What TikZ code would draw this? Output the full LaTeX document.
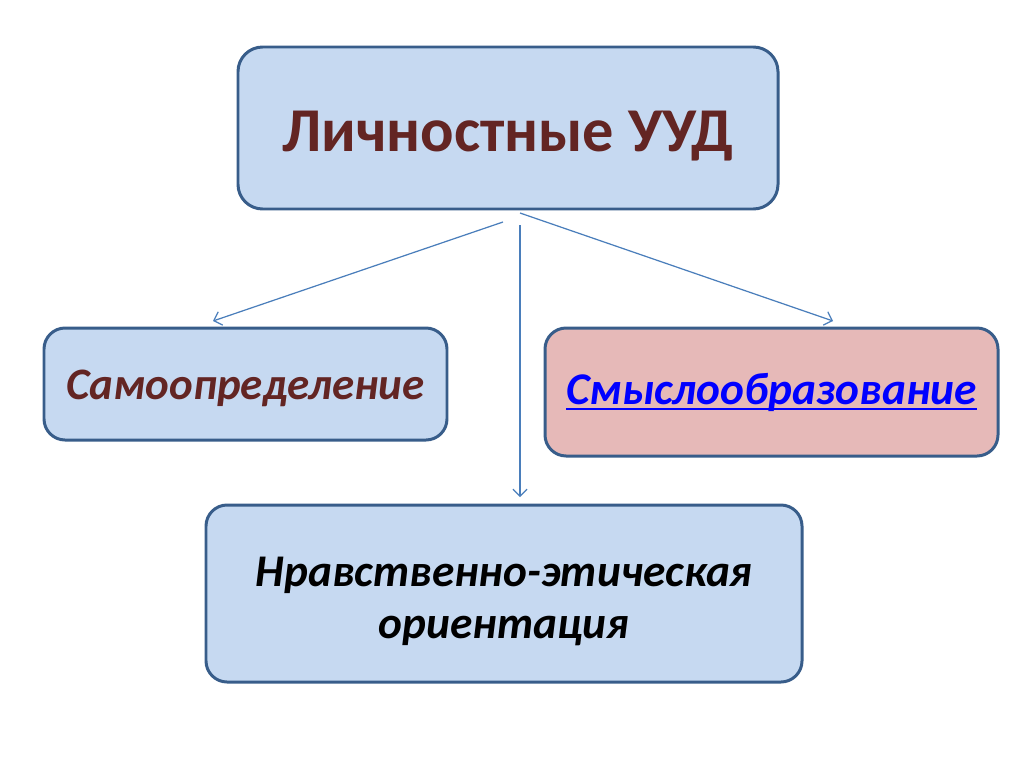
\documentclass[tikz,border=0pt]{standalone}
\usepackage{fontspec}
\setmainfont{Carlito}
\usetikzlibrary{arrows.meta}
\definecolor{boxblue}{HTML}{C6D9F1}
\definecolor{boxpink}{HTML}{E6B9B8}
\definecolor{boxline}{HTML}{385D8A}
\definecolor{darkred}{HTML}{632523}
\definecolor{arrowblue}{HTML}{4A7EBB}
% Underline as a link
\newcommand\linktext[1]{\setbox0\hbox{#1}\rlap{\raisebox{-3.6pt}{\rule{\wd0}{1.6pt}}}\box0}
\begin{document}
\begin{tikzpicture}[x=0.02cm, y=-0.02cm,
  uudbox/.style={draw=boxline, line width=1.7pt, fill=boxblue, rounded corners=12pt, align=center, inner sep=0pt},
  link/.style={draw=arrowblue, line width=0.7pt, -{Straight Barb[length=4pt, width=8pt]}}]
% Page frame
\useasboundingbox (0, 0) rectangle (1024, 768);

% Boxes
\node[uudbox, minimum width=540*0.02cm, minimum height=162*0.02cm, rounded corners=14pt,
  font=\fontsize{35.5}{42}\selectfont\bfseries, text=darkred] (main) at (508, 128) {\rule{0pt}{32pt}Личностные УУД};
\node[uudbox, minimum width=403*0.02cm, minimum height=112*0.02cm,
  font=\fontsize{25.6}{30}\selectfont\bfseries\itshape, text=darkred] (self) at (245.5, 384) {\rule{0pt}{22pt}Самоопределение};
\node[uudbox, fill=boxpink, minimum width=453*0.02cm, minimum height=128*0.02cm,
  font=\fontsize{25.8}{30}\selectfont\bfseries\itshape, text=blue] (sense) at (771.5, 392) {\linktext{Смыслообразование}};
\node[uudbox, minimum width=596*0.02cm, minimum height=177*0.02cm,
  font=\fontsize{25.8}{29.3}\selectfont\bfseries\itshape, text=black] (moral) at (504, 593.5) {\rule{0pt}{26pt}Нравственно-этическая\\ориентация};

% Arrow ends
\coordinate (fromL) at (503, 222);
\coordinate (fromM) at (520, 225);
\coordinate (fromR) at (520, 213);
\coordinate (toL) at (213, 321);
\coordinate (toM) at (520, 497);
\coordinate (toR) at (833, 321);

% Arrows
\draw[link] (fromL) -- (toL);
\draw[link] (fromM) -- (toM);
\draw[link] (fromR) -- (toR);
\end{tikzpicture}
\end{document}
